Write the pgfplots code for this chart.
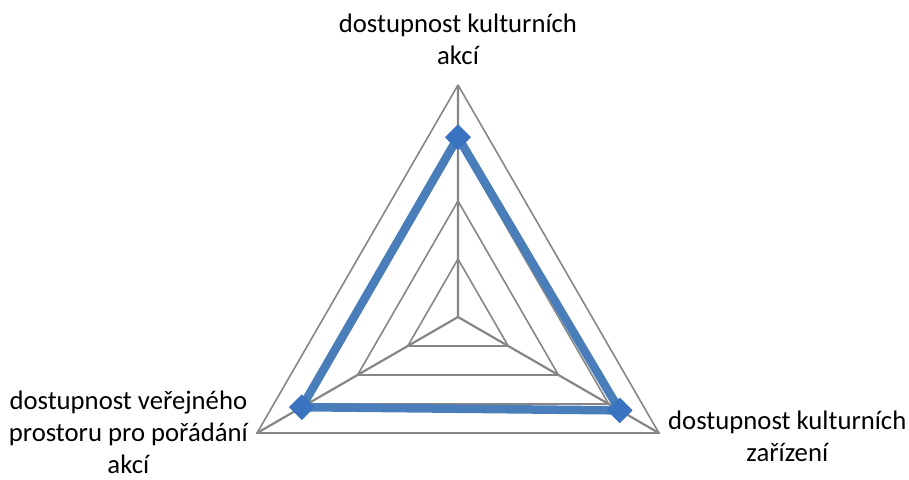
\documentclass[border=0pt]{standalone}
\usepackage{fontspec}
\setmainfont{Carlito}
\usepackage{pgfplots}
\pgfplotsset{compat=1.18}
\usepgfplotslibrary{polar}

\definecolor{gridgray}{HTML}{868686}
\definecolor{seriesblue}{HTML}{4A7EBB}
\definecolor{markblue}{HTML}{3A73BF}

% values per axis: angle, value (scale 0..4)
\pgfplotstableread{
angle value
90  3.10
330 3.22
210 3.11
90  3.10
}\dostupnost

\begin{document}
\begin{tikzpicture}
\path[use as bounding box] (-458pt,-162pt) rectangle (451pt,317pt);
\begin{polaraxis}[
    at={(0,0)}, anchor=center,
    width=464pt, height=464pt, scale only axis,
    xmin=0, xmax=360, ymin=0, ymax=4,
    hide axis, clip=false,
    every axis plot/.append style={line join=miter},
]
% spokes
\addplot[no marks, draw=gridgray, line width=2.2pt] coordinates {(90,4) (90,0) (210,4) (210,0) (330,4) (330,0)};
% rings
\addplot[no marks, draw=gridgray, line width=1.6pt] coordinates {(90,1) (210,1) (330,1) (90,1)};
\addplot[no marks, draw=gridgray, line width=1.6pt] coordinates {(90,2) (210,2) (330,2) (90,2)};
\addplot[no marks, draw=gridgray, line width=1.6pt] coordinates {(90,3) (210,3) (330,3) (90,3)};
\addplot[no marks, draw=gridgray, line width=1.6pt] coordinates {(90,4) (210,4) (330,4) (90,4)};
% series
\addplot[draw=seriesblue, line width=8.5pt, line join=round,
    mark=square*, mark size=8.8pt,
    mark options={rotate=45, fill=markblue, draw=markblue, line width=0.5pt}]
    table[x=angle, y=value] {\dostupnost};

\begin{scope}[every node/.style={align=center, inner sep=0pt,
    font=\fontsize{26.7}{32}\selectfont}]
\node[anchor=south] at ([shift={(0pt,252pt)}]axis cs:0,0)
    {dostupnost kulturních\\akcí};
\node[anchor=south west] at ([shift={(210pt,-145pt)}]axis cs:0,0)
    {dostupnost kulturních\\zařízení};
\node[anchor=south east] at ([shift={(-210pt,-157pt)}]axis cs:0,0)
    {dostupnost veřejného\\prostoru pro pořádání\\akcí};
\end{scope}
\end{polaraxis}
\end{tikzpicture}
\end{document}
